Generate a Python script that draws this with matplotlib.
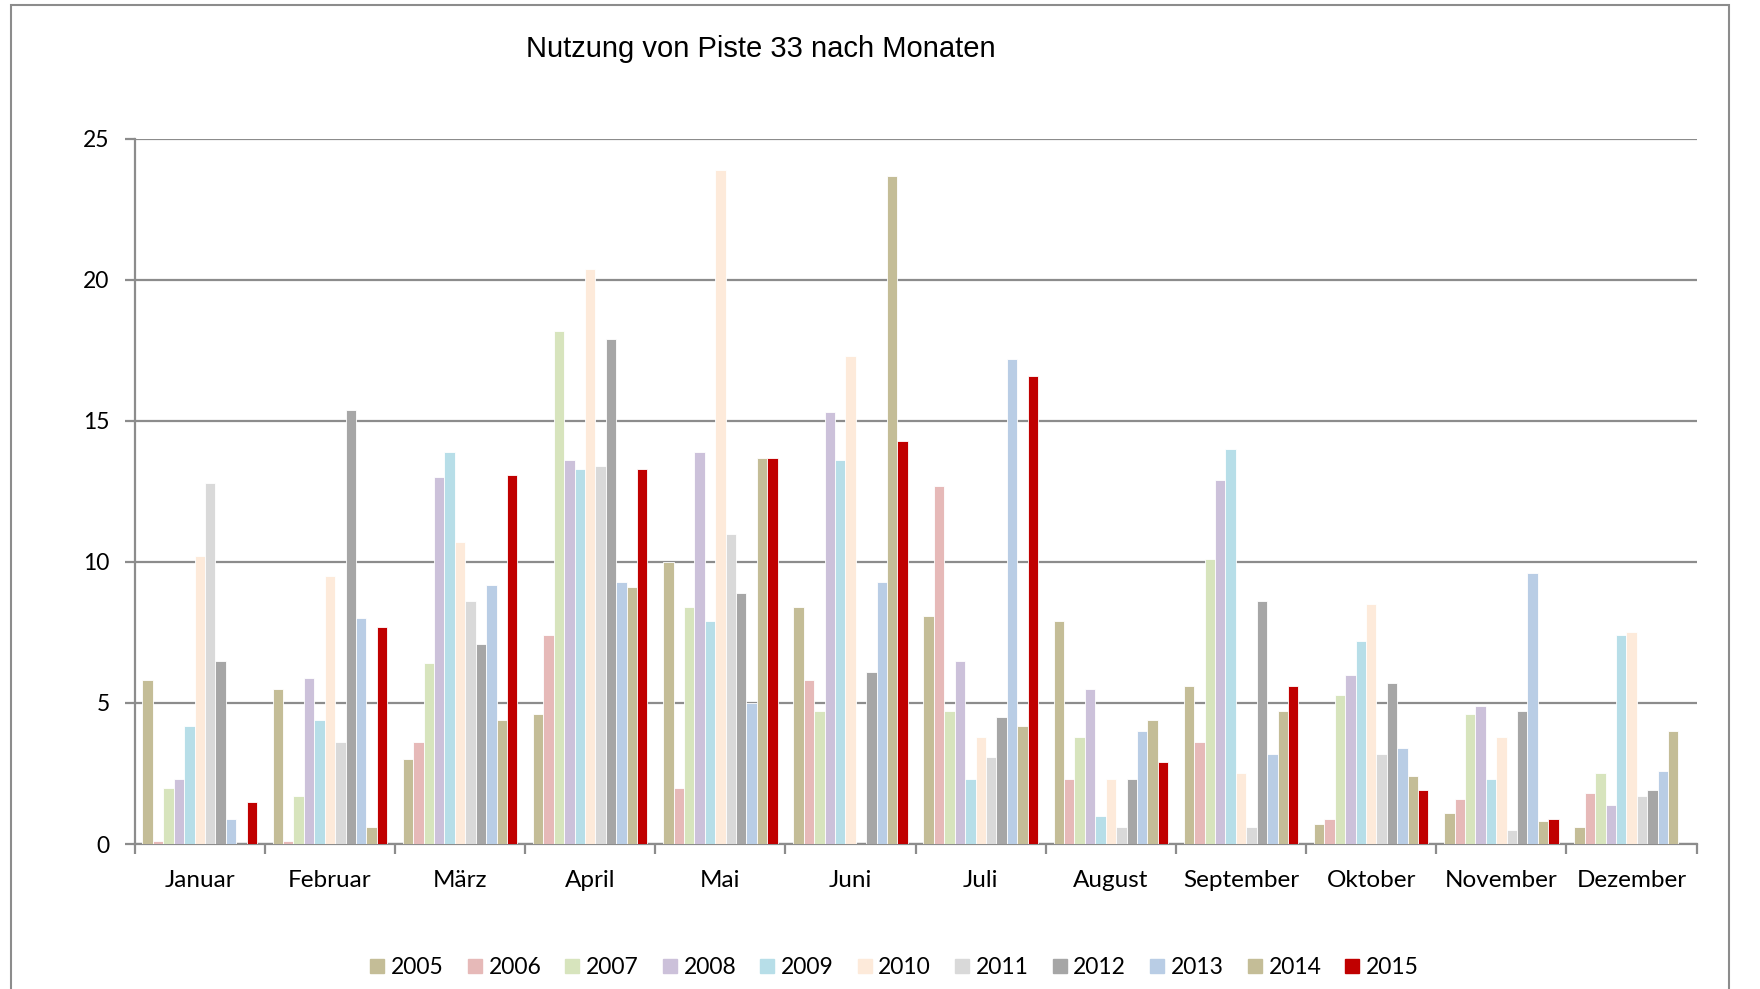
import numpy as np
import matplotlib.pyplot as plt
from matplotlib.patches import Rectangle
from matplotlib.lines import Line2D

months = ['Januar', 'Februar', 'März', 'April', 'Mai', 'Juni', 'Juli',
          'August', 'September', 'Oktober', 'November', 'Dezember']
years = ['2005', '2006', '2007', '2008', '2009', '2010',
         '2011', '2012', '2013', '2014', '2015']

v2005 = [5.8, 5.5, 3.0, 4.6, 10.0, 8.4, 8.1, 7.9, 5.6, 0.7, 1.1, 0.6]
v2006 = [0.1, 0.1, 3.6, 7.4, 2.0, 5.8, 12.7, 2.3, 3.6, 0.9, 1.6, 1.8]
v2007 = [2.0, 1.7, 6.4, 18.2, 8.4, 4.7, 4.7, 3.8, 10.1, 5.3, 4.6, 2.5]
v2008 = [2.3, 5.9, 13.0, 13.6, 13.9, 15.3, 6.5, 5.5, 12.9, 6.0, 4.9, 1.4]
v2009 = [4.2, 4.4, 13.9, 13.3, 7.9, 13.6, 2.3, 1.0, 14.0, 7.2, 2.3, 7.4]
v2010 = [10.2, 9.5, 10.7, 20.4, 23.9, 17.3, 3.8, 2.3, 2.5, 8.5, 3.8, 7.5]
v2011 = [12.8, 3.6, 8.6, 13.4, 11.0, 0.0, 3.1, 0.6, 0.6, 3.2, 0.5, 1.7]
v2012 = [6.5, 15.4, 7.1, 17.9, 8.9, 6.1, 4.5, 2.3, 8.6, 5.7, 4.7, 1.9]
v2013 = [0.9, 8.0, 9.2, 9.3, 5.0, 9.3, 17.2, 4.0, 3.2, 3.4, 9.6, 2.6]
v2014 = [0.0, 0.6, 4.4, 9.1, 13.7, 23.7, 4.2, 4.4, 4.7, 2.4, 0.8, 4.0]
v2015 = [1.5, 7.7, 13.1, 13.3, 13.7, 14.3, 16.6, 2.9, 5.6, 1.9, 0.9, 0.0]

series = [v2005, v2006, v2007, v2008, v2009, v2010,
          v2011, v2012, v2013, v2014, v2015]
colors = ['#C4BD97', '#E6B9B8', '#D7E4BD', '#CCC1DA', '#B7DEE8', '#FDEADA',
          '#D9D9D9', '#A6A6A6', '#B9CDE5', '#C4BD97', '#C00000']

GRID = '#8C8C8C'
plt.rcParams['font.family'] = ['Lato', 'DejaVu Sans']

fig = plt.figure(figsize=(17.6, 9.89), dpi=100)
ax = fig.add_axes([0.0765, 0.1466, 0.8875, 0.713])

x = np.arange(len(months))
bw = 0.08
n = len(series)
for i, (vals, c) in enumerate(zip(series, colors)):
    off = (i - (n - 1) / 2) * bw
    vals = np.array(vals)
    # Excel draws nothing for empty cells, so skip the zero bars
    keep = vals > 0
    ax.bar(x[keep] + off, vals[keep], width=bw, color=c, edgecolor='white',
           linewidth=0.6, zorder=3)

ax.set_xlim(-0.5, len(months) - 0.5)
ax.set_ylim(0, 25)
ax.set_yticks([0, 5, 10, 15, 20, 25])
ax.yaxis.grid(True, color=GRID, linewidth=1.6, zorder=0)
ax.set_axisbelow(True)

# month boundaries as major ticks, labels on minor ticks at centres
ax.set_xticks(np.arange(-0.5, len(months), 1.0))
ax.set_xticklabels([])
ax.set_xticks(x, minor=True)
ax.set_xticklabels(months, minor=True)
ax.tick_params(axis='x', which='major', length=7, width=1.6, color=GRID,
               direction='out')
ax.tick_params(axis='x', which='minor', length=0, pad=19, labelsize=17.5)
ax.tick_params(axis='y', length=7, width=1.6, color=GRID, labelsize=16.5,
               pad=11)

for s in ['top', 'right']:
    ax.spines[s].set_visible(False)
for s in ['left', 'bottom']:
    ax.spines[s].set_color(GRID)
    ax.spines[s].set_linewidth(1.6)

fig.text(0.432, 0.950, 'Nutzung von Piste 33 nach Monaten', ha='center',
         va='center', fontsize=21, family=['Liberation Sans', 'DejaVu Sans'])

handles = [Line2D([], [], marker='s', linestyle='none', markersize=10,
                  markerfacecolor=c, markeredgecolor=c) for c in colors]
fig.legend(handles, years, loc='center', bbox_to_anchor=(0.507, 0.022),
           ncol=len(years), frameon=False, fontsize=16.5, handletextpad=0.1,
           columnspacing=0.85, handlelength=1.0)

# outer frame of the chart area
fig.patches.append(Rectangle((0.0063, -0.05), 0.976, 1.045,
                             transform=fig.transFigure, fill=False,
                             edgecolor='#8C8C8C', linewidth=1.5))

fig.savefig('out.png', dpi=100)
